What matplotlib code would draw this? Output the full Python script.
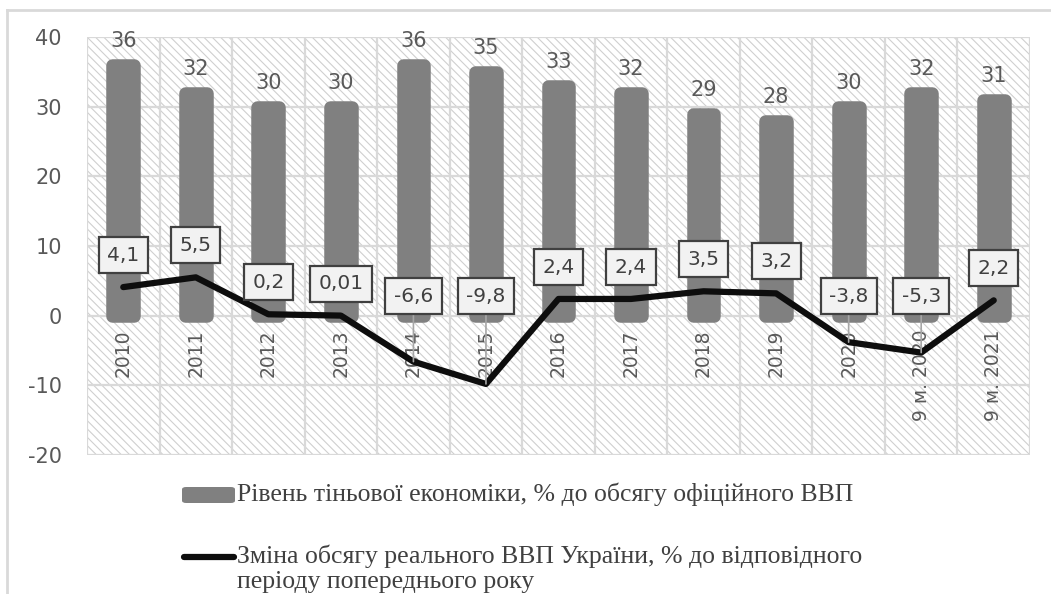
import matplotlib.pyplot as plt
from matplotlib.patches import Rectangle, FancyBboxPatch
from matplotlib.lines import Line2D

# data
categories = ["2010", "2011", "2012", "2013", "2014", "2015", "2016",
              "2017", "2018", "2019", "2020", "9 м. 2020", "9 м. 2021"]
shadow_level = [36, 32, 30, 30, 36, 35, 33, 32, 29, 28, 30, 32, 31]
gdp_change = [4.1, 5.5, 0.2, 0.01, -6.6, -9.8, 2.4, 2.4, 3.5, 3.2, -3.8, -5.3, 2.2]
gdp_labels = ["4,1", "5,5", "0,2", "0,01", "-6,6", "-9,8", "2,4", "2,4",
              "3,5", "3,2", "-3,8", "-5,3", "2,2"]
legend_bar = "Рівень тіньової економіки, % до обсягу офіційного ВВП"
legend_line_1 = "Зміна обсягу реального ВВП України, % до відповідного"
legend_line_2 = "періоду попереднього року"

grid_color = "#d9d9d9"
text_color = "#595959"

plt.rcParams["axes.unicode_minus"] = False
plt.rcParams["hatch.linewidth"] = 0.8

fig = plt.figure(figsize=(10.51, 5.94), dpi=100)
ax = fig.add_axes([87 / 1051, 1 - 455 / 594, 943 / 1051, 418 / 594])

x = list(range(len(categories)))

# hatched plot background
bg = Rectangle((0, 0), 1, 1, transform=ax.transAxes, facecolor="white",
               edgecolor="#cfcfcf", hatch="\\\\\\\\", linewidth=0, zorder=0)
ax.add_patch(bg)

ax.set_xlim(-0.5, len(categories) - 0.5)
ax.set_ylim(-20, 40)
ax.set_yticks([-20, -10, 0, 10, 20, 30, 40])
ax.set_xticks([i - 0.5 for i in range(len(categories) + 1)], minor=True)
ax.set_xticks([])
ax.grid(axis="y", which="major", color=grid_color, linewidth=1.6, zorder=1)
ax.grid(axis="x", which="minor", color=grid_color, linewidth=1.6, zorder=1)
ax.set_axisbelow(True)
for s in ax.spines.values():
    s.set_visible(False)
ax.tick_params(axis="y", length=0, pad=18, labelsize=15, labelcolor=text_color)
ax.tick_params(axis="x", which="both", length=0)

# bars with rounded outline
ax.bar(x, shadow_level, width=0.30, color="#808080", edgecolor="#808080",
       linewidth=9, joinstyle="round", zorder=2)
for xi, v in zip(x, shadow_level):
    ax.annotate(str(v), (xi, v), xytext=(0, 17), textcoords="offset points",
                ha="center", va="center", fontsize=15, color=text_color, zorder=5)

# category labels inside the plot
for xi, c in zip(x, categories):
    ax.text(xi, -2.0, c, rotation=90, ha="center", va="top", fontsize=13.5,
            color=text_color, zorder=3)

# gdp line
ax.plot(x, gdp_change, color="#0d0d0d", linewidth=4.5, solid_capstyle="round",
        solid_joinstyle="round", zorder=4)

box = dict(boxstyle="square,pad=0.42", facecolor="#f2f2f2", edgecolor="#404040",
           linewidth=1.6)
for xi, v, lab in zip(x, gdp_change, gdp_labels):
    if v >= 0:
        ax.annotate(lab, (xi, v), xytext=(0, 23), textcoords="offset points",
                    ha="center", va="center", fontsize=14.5, color="#404040",
                    bbox=box, zorder=6)
    else:
        ax.annotate(lab, (xi, v), xytext=(xi, 2.8), textcoords="data",
                    ha="center", va="center", fontsize=14.5, color="#404040",
                    bbox=box, zorder=6,
                    arrowprops=dict(arrowstyle="-", color="#a6a6a6", lw=1.2,
                                    shrinkA=0, shrinkB=0))

# outer chart frame
fig.add_artist(Line2D([7 / 1051, 7 / 1051], [0, 1 - 10 / 594], color=grid_color,
                      linewidth=2, transform=fig.transFigure))
fig.add_artist(Line2D([7 / 1051, 1], [1 - 10 / 594, 1 - 10 / 594], color=grid_color,
                      linewidth=2, transform=fig.transFigure))

# legend
fig.add_artist(FancyBboxPatch((182 / 1051, 1 - 503 / 594), 53 / 1051, 16 / 594,
                              boxstyle="round,pad=0,rounding_size=0.004",
                              facecolor="#808080", edgecolor="none",
                              transform=fig.transFigure))
fig.text(237 / 1051, 1 - 494 / 594, legend_bar, ha="left", va="center",
         family="Liberation Serif", fontsize=18.5, color="#404040")
fig.add_artist(Line2D([184 / 1051, 234 / 1051], [1 - 557 / 594, 1 - 557 / 594],
                      color="#0d0d0d", linewidth=4.5, solid_capstyle="round",
                      transform=fig.transFigure))
fig.text(237 / 1051, 1 - 556 / 594, legend_line_1, ha="left", va="center",
         family="Liberation Serif", fontsize=18.5, color="#404040")
fig.text(237 / 1051, 1 - 582 / 594, legend_line_2, ha="left", va="center",
         family="Liberation Serif", fontsize=18.5, color="#404040")

fig.savefig("out.png", dpi=100)
